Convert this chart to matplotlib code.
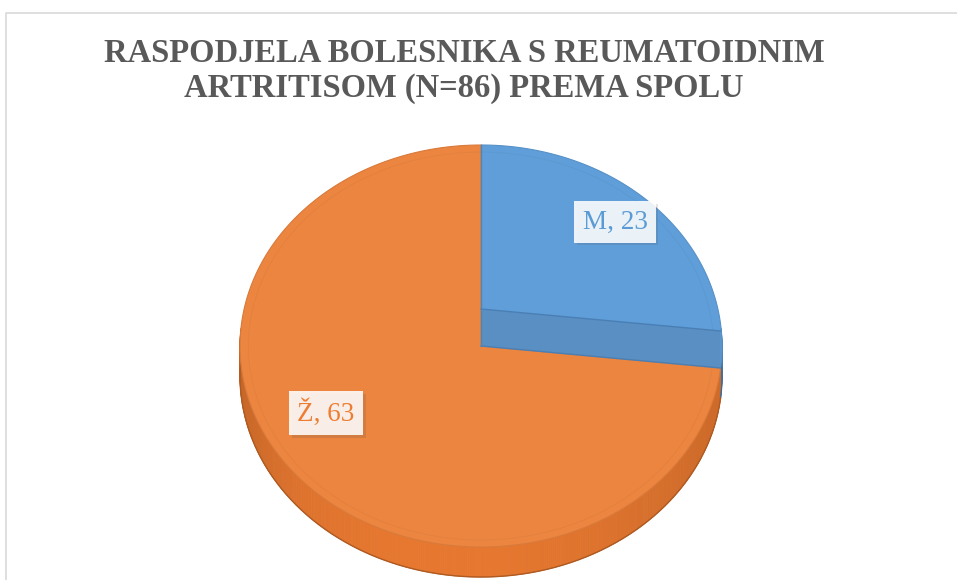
import numpy as np
import matplotlib
matplotlib.use("Agg")
import matplotlib.pyplot as plt
from matplotlib import patheffects as pe
from matplotlib.colors import to_rgb

# ---- data ----
categories = ["M", "Ž"]
values = [23, 63]
title_lines = ["RASPODJELA BOLESNIKA S REUMATOIDNIM", "ARTRITISOM (N=86) PREMA SPOLU"]

# ---- style / layout ----
top_colors = ["#5F9ED8", "#EB8540"]
side_colors = ["#4F86BA", "#D8702C"]
label_colors = ["#5B9BD5", "#ED7D31"]
label_pos = [(615, 222), (326, 413)]
W, H = 957, 580
cx, cy, rx, ry, depth = 481, 346, 241, 201, 30

fig = plt.figure(figsize=(W / 100, H / 100), dpi=100)
ax = fig.add_axes([0, 0, 1, 1])
ax.set_xlim(0, W)
ax.set_ylim(H, 0)
ax.axis("off")

# chart border
ax.plot([5.5, 5.5, W + 5], [H + 5, 12.5, 12.5], color="#D9D9D9", lw=1.2, solid_capstyle="butt")

def pt(theta_deg, scale=1.0, dz=0.0):
    t = np.radians(theta_deg)
    return cx + rx * scale * np.sin(t), cy - ry * scale * np.cos(t) + dz

total = float(sum(values))
angles = np.concatenate([[0], np.cumsum(values) / total * 360.0])

def shade(c, f):
    r, g, b = to_rgb(c)
    return (min(r * f, 1), min(g * f, 1), min(b * f, 1))

# outer side walls (front half), drawn as thin strips with shading
for i in range(len(values)):
    a0, a1 = angles[i], angles[i + 1]
    lo, hi = max(a0, 85), min(a1, 275)
    if hi <= lo:
        continue
    th = np.linspace(lo, hi, int((hi - lo) * 2) + 2)
    for j in range(len(th) - 1):
        tt = np.linspace(th[j], th[j + 1], 3)
        xt, yt = pt(tt)
        xb, yb = pt(tt[::-1], dz=depth)
        mid = 0.5 * (th[j] + th[j + 1])
        f = 0.86 + 0.10 * np.cos(np.radians(mid - 190)) ** 2
        if mid > 230:
            f -= 0.06 * (mid - 230) / 45
        ax.fill(np.concatenate([xt, xb]), np.concatenate([yt, yb]),
                color=shade(side_colors[i], f / 0.9), lw=0.6, ec=shade(side_colors[i], f / 0.9))
    xb, yb = pt(th, dz=depth)
    ax.plot(xb, yb, color=shade(side_colors[i], 0.8), lw=1.0)

# top faces
for i in range(len(values)):
    th = np.linspace(angles[i], angles[i + 1], 200)
    x, y = pt(th)
    ax.fill(np.concatenate([[cx], x]), np.concatenate([[cy], y]),
            color=top_colors[i], ec=shade(top_colors[i], 0.92), lw=0.8, zorder=3)
    # bevel inner line
    xi, yi = pt(th, scale=0.965)
    ax.plot(xi, yi, color=shade(top_colors[i], 0.9), lw=0.6, alpha=0.35, zorder=4)

# darker band on blue slice near its radial edge
ex, ey = pt(angles[1])
band = 37
ax.fill([cx, ex, ex, cx], [cy - band, ey - band, ey, cy], color="#5A8DC0", alpha=0.85, lw=0, zorder=5)
ax.plot([cx, ex], [cy - band, ey - band], color="#4A7FB5", lw=1.0, zorder=6)
ax.plot([cx, ex], [cy, ey], color="#4A7FB5", lw=1.0, zorder=6)
ax.plot([cx, cx], [pt(0)[1], cy], color="#4F86BA", lw=1.0, zorder=6)

# labels
for i, (lab, v) in enumerate(zip(categories, values)):
    t = ax.text(label_pos[i][0], label_pos[i][1], f"{lab}, {v}", family="Liberation Serif",
                fontsize=19.5, color=label_colors[i], ha="center", va="center", zorder=10,
                bbox=dict(boxstyle="square,pad=0.3", fc="white", ec="none", alpha=0.88))
    t.get_bbox_patch().set_path_effects([pe.SimplePatchShadow(offset=(2, -2), alpha=0.15), pe.Normal()])

# title
ax.text(464, 53, title_lines[0], family="Liberation Serif", weight="bold", fontsize=23.5,
        color="#595959", ha="center", va="center")
ax.text(464, 88, title_lines[1], family="Liberation Serif", weight="bold", fontsize=23.5,
        color="#595959", ha="center", va="center")

fig.savefig("out.png", dpi=100)
